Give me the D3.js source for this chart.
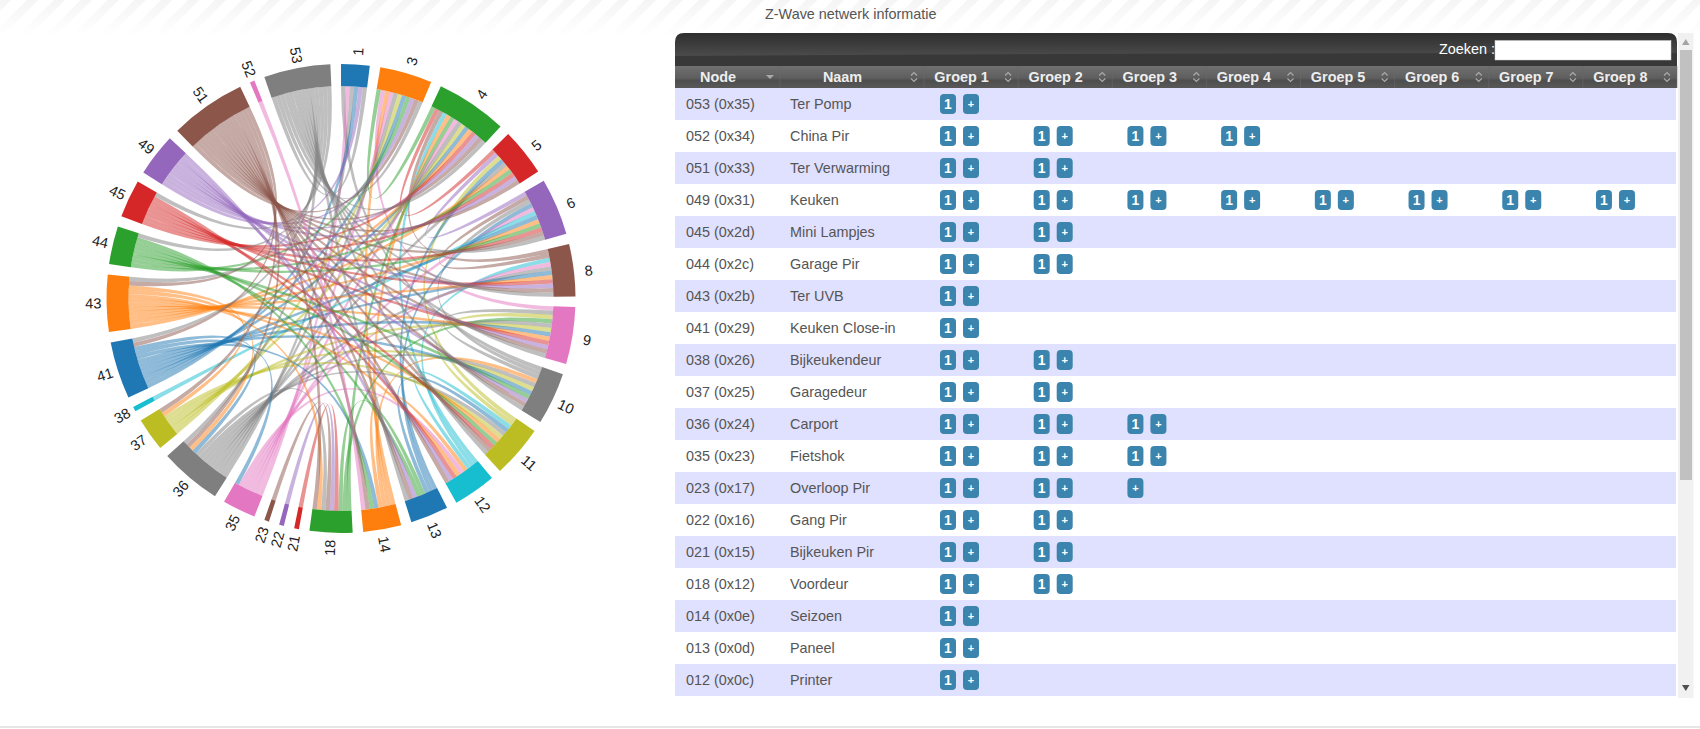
<!DOCTYPE html>
<html>
<head>
<meta charset="utf-8">
<title>Z-Wave netwerk informatie</title>
<script src="https://cdn.jsdelivr.net/npm/d3@7"></script>
<style>
  html, body { margin: 0; padding: 0; background: #fff; overflow: hidden; }
  svg { display: block; font-family: "Liberation Sans", Arial, sans-serif; }
</style>
</head>
<body>
<svg id="page" width="1700" height="729"></svg>
<script>
(function(){

  // chord diagram: the network nodes, clockwise from the top
  var nodes = [1, 3, 4, 5, 6, 8, 9, 10, 11, 12, 13, 14, 18, 21, 22, 23, 35, 36, 37, 38, 41, 43, 44, 45, 49, 51, 52, 53];

  var links53 = [1, 3, 4, 6, 8, 9, 10, 11, 13, 36, 41, 43, 44, 45];
  var links52 = [14];
  var links51 = [3, 4, 5, 6, 8, 9, 10, 11, 12, 13, 14, 18, 36, 37, 41, 43];
  var links49 = [1, 3, 4, 5, 8, 9, 10, 12, 13];
  var links45 = [4, 5, 6, 8, 9, 11, 12];
  var links44 = [3, 5, 6, 10, 11, 13, 14];
  var links43 = [4, 5, 6, 8, 9, 11, 12, 18, 36, 37];
  var links41 = [1, 3, 4, 6, 8, 9, 10, 14, 35, 36];
  var links38 = [6];
  var links37 = [3, 4, 9, 10, 11];
  var links36 = [1, 3, 4, 5, 8, 9, 10, 11, 18];
  var links35 = [1, 3, 4, 6, 8, 12];
  var links23 = [18];
  var links22 = [18];
  var links21 = [18];
  var links18 = [4, 9, 13];
  var links14 = [3, 4, 10, 12];
  var links13 = [5, 6, 11];
  var links12 = [4, 8, 11];
  var links11 = [5, 9];
  var links10 = [1, 6, 9];
  var links9 = [3];
  var links8 = [4, 6];
  var links6 = [5];
  var links5 = [4];
  var links4 = [3];

  var linkRows = [
    [53, links53], [52, links52], [51, links51], [49, links49], [45, links45], [44, links44],
    [43, links43], [41, links41], [38, links38], [37, links37], [36, links36], [35, links35],
    [23, links23], [22, links22], [21, links21], [18, links18], [14, links14], [13, links13],
    [12, links12], [11, links11], [10, links10], [9, links9], [8, links8], [6, links6],
    [5, links5], [4, links4]
  ];

  // table
  var nodeIds = ["053 (0x35)", "052 (0x34)", "051 (0x33)", "049 (0x31)", "045 (0x2d)", "044 (0x2c)", "043 (0x2b)",
    "041 (0x29)", "038 (0x26)", "037 (0x25)", "036 (0x24)", "035 (0x23)", "023 (0x17)", "022 (0x16)", "021 (0x15)",
    "018 (0x12)", "014 (0x0e)", "013 (0x0d)", "012 (0x0c)"];
  var nodeNames = ["Ter Pomp", "China Pir", "Ter Verwarming", "Keuken", "Mini Lampjes", "Garage Pir", "Ter UVB",
    "Keuken Close-in", "Bijkeukendeur", "Garagedeur", "Carport", "Fietshok", "Overloop Pir", "Gang Pir", "Bijkeuken Pir",
    "Voordeur", "Seizoen", "Paneel", "Printer"];
  // per row, the labels of the buttons in Groep 1..8
  var groupButtons = [
    ["1"], ["1", "1", "1", "1"], ["1", "1"], ["1", "1", "1", "1", "1", "1", "1", "1"], ["1", "1"], ["1", "1"], ["1"],
    ["1"], ["1", "1"], ["1", "1"], ["1", "1", "1"], ["1", "1", "1"], ["1", "1", ""], ["1", "1"], ["1", "1"],
    ["1", "1"], ["1"], ["1"], ["1"]
  ];
  var groupNames = ["Groep 1", "Groep 2", "Groep 3", "Groep 4", "Groep 5", "Groep 6", "Groep 7", "Groep 8"];

  var svg = d3.select("#page");
  var defs = svg.append("defs");

  // page background, hatch fading out under the title
  var hatch = defs.append("pattern").attr("id", "hatch").attr("width", 19).attr("height", 19)
    .attr("patternUnits", "userSpaceOnUse").attr("patternTransform", "rotate(45)");
  hatch.append("rect").attr("width", 8).attr("height", 19).attr("fill", "#f5f5f5");
  var fade = defs.append("linearGradient").attr("id", "fade").attr("x1", 0).attr("x2", 0).attr("y1", 0).attr("y2", 1);
  fade.append("stop").attr("offset", 0).attr("stop-color", "#fff");
  fade.append("stop").attr("offset", 1).attr("stop-color", "#000");
  defs.append("mask").attr("id", "hatchFade").attr("maskUnits", "userSpaceOnUse")
    .attr("x", 0).attr("y", 0).attr("width", 1700).attr("height", 36)
    .append("rect").attr("width", 1700).attr("height", 36).attr("fill", "url(#fade)");
  svg.append("rect").attr("width", 1700).attr("height", 36).attr("fill", "url(#hatch)").attr("mask", "url(#hatchFade)");

  drawChord();
  drawTable();

  function drawChord(){
    var index = {};
    nodes.forEach(function(n, i){ index[n] = i; });

    var matrix = nodes.map(function(){ return nodes.map(function(){ return 0; }); });
    linkRows.forEach(function(row){
      row[1].forEach(function(other){
        matrix[index[row[0]]][index[other]] = 1;
        matrix[index[other]][index[row[0]]] = 1;
      });
    });

    var outerRadius = 234.5;
    var innerRadius = 212.5;
    var labelRadius = 248.5;

    var chord = d3.chord().padAngle(0.0454);
    var chords = chord(matrix);
    var color = d3.scaleOrdinal(d3.schemeCategory10).domain(d3.range(nodes.length));
    var arc = d3.arc().innerRadius(innerRadius).outerRadius(outerRadius);
    var ribbon = d3.ribbon().radius(innerRadius);

    var g = svg.append("g").attr("transform", "translate(341,298.5)");

    // ribbons take the colour of the higher numbered node
    g.append("g").selectAll("path")
      .data(chords)
      .enter()
      .append("path")
      .attr("d", ribbon)
      .attr("fill", function(d){ return color(Math.max(d.source.index, d.target.index)); })
      .attr("fill-opacity", 0.5);

    var group = g.append("g").selectAll("g")
      .data(chords.groups)
      .enter()
      .append("g");

    group.append("path")
      .attr("d", arc)
      .attr("fill", function(d){ return color(d.index); });

    group.append("text")
      .attr("transform", function(d){
        var a = (d.startAngle + d.endAngle) / 2;
        var deg = a * 180 / Math.PI - 90;
        if (a > Math.PI) deg += 180;
        return "translate(" + (Math.sin(a) * labelRadius + 0.8) + "," + (-Math.cos(a) * labelRadius + 1) + ") rotate(" + deg + ")";
      })
      .attr("text-anchor", "middle")
      .attr("dominant-baseline", "central")
      .attr("dy", function(d){ return (d.startAngle + d.endAngle) / 2 > Math.PI ? -1.2 : 1.2; })
      .attr("font-size", 14.5)
      .attr("fill", "#222")
      .text(function(d){ return nodes[d.index]; });
  }

  function drawTable(){
    var left = 675, right = 1677, top = 33, toolbarBottom = 66, headBottom = 88;

    var rowY = d3.scaleBand().domain(d3.range(nodeIds.length)).range([headBottom, 696]);
    var headX = d3.scaleBand().domain(d3.range(groupNames.length)).range([924, right]);
    var cellX = d3.scaleLinear().domain([0, 1]).range([940, 940 + 93.71]);

    var dark = defs.append("linearGradient").attr("id", "toolbarTop").attr("x1", 0).attr("x2", 0).attr("y1", 0).attr("y2", 1);
    dark.append("stop").attr("offset", 0).attr("stop-color", "#2e2e2e");
    dark.append("stop").attr("offset", 1).attr("stop-color", "#585858");
    var headGrad = defs.append("linearGradient").attr("id", "headTop").attr("x1", 0).attr("x2", 0).attr("y1", 0).attr("y2", 1);
    headGrad.append("stop").attr("offset", 0).attr("stop-color", "#707070");
    headGrad.append("stop").attr("offset", 0.55).attr("stop-color", "#5e5e5e");
    headGrad.append("stop").attr("offset", 0.65).attr("stop-color", "#4e4e4e");
    headGrad.append("stop").attr("offset", 1).attr("stop-color", "#585858");

    // toolbar
    svg.append("path")
      .attr("d", "M" + left + "," + toolbarBottom + "V" + (top + 9) + "Q" + left + "," + top + " " + (left + 9) + "," + top +
        "H" + (right - 9) + "Q" + right + "," + top + " " + right + "," + (top + 9) + "V" + toolbarBottom + "Z")
      .attr("fill", "url(#toolbarTop)");
    svg.append("path")
      .attr("d", "M" + left + ",56Q1180,53 " + right + ",53V66H" + left + "Z")
      .attr("fill", "#383838");

    svg.append("text").attr("x", 1495).attr("y", 49).attr("text-anchor", "end")
      .attr("dominant-baseline", "central").attr("font-size", 14.4).attr("fill", "#fff").text("Zoeken :");
    svg.append("rect").attr("x", 1495).attr("y", 40.5).attr("width", 176).attr("height", 19.5)
      .attr("fill", "#fff").attr("stroke", "#ccc").attr("stroke-width", 0.5);

    // header row
    svg.append("rect").attr("x", left).attr("y", toolbarBottom).attr("width", right - left).attr("height", headBottom - toolbarBottom)
      .attr("fill", "url(#headTop)");

    var heads = [{name: "Node", x0: left, x1: 780}, {name: "Naam", x0: 780, x1: 924}];
    groupNames.forEach(function(name, i){
      heads.push({name: name, x0: headX(i), x1: headX(i) + headX.bandwidth()});
    });

    var head = svg.append("g").selectAll("g").data(heads).enter().append("g");
    head.append("line")
      .attr("x1", function(d){ return d.x1; }).attr("x2", function(d){ return d.x1; })
      .attr("y1", toolbarBottom).attr("y2", headBottom)
      .attr("stroke", "#6a6a6a").attr("stroke-width", 0.6);
    head.append("text")
      .attr("x", function(d){ return (d.x0 + d.x1) / 2 - 9.5; })
      .attr("y", 77)
      .attr("text-anchor", "middle").attr("dominant-baseline", "central")
      .attr("font-size", 14.4).attr("font-weight", "bold").attr("fill", "#eee")
      .text(function(d){ return d.name; });
    head.append("path")
      .attr("transform", function(d){ return "translate(" + (d.x1 - 10) + ",77)"; })
      .attr("d", function(d, i){
        return i === 0 ? "M-4,-2H4L0,2Z" : "M-3,-1.5L0,-4.5L3,-1.5M-3,1.5L0,4.5L3,1.5";
      })
      .attr("fill", function(d, i){ return i === 0 ? "#aaa" : "none"; })
      .attr("stroke", function(d, i){ return i === 0 ? "none" : "#aaa"; })
      .attr("stroke-width", 1.2);

    // rows
    var row = svg.append("g").selectAll("g")
      .data(nodeIds)
      .enter()
      .append("g")
      .attr("transform", function(d, i){ return "translate(0," + rowY(i) + ")"; });

    row.append("rect")
      .attr("x", left).attr("width", 1676 - left).attr("height", rowY.bandwidth())
      .attr("fill", function(d, i){ return i % 2 === 0 ? "#e0e0ff" : "#fff"; });

    row.append("text").attr("x", 686).attr("y", 16).attr("dominant-baseline", "central")
      .attr("font-size", 14.4).attr("fill", "#555").text(function(d){ return d; });
    row.append("text").attr("x", 790).attr("y", 16).attr("dominant-baseline", "central")
      .attr("font-size", 14.4).attr("fill", "#555").text(function(d, i){ return nodeNames[i]; });

    row.each(function(d, i){
      var buttons = [];
      groupButtons[i].forEach(function(label, col){
        if (label) {
          buttons.push({text: label, x: cellX(col), w: 16});
          buttons.push({text: "+", x: cellX(col) + 23, w: 16});
        } else {
          buttons.push({text: "+", x: cellX(col), w: 16});
        }
      });
      var b = d3.select(this).selectAll("g.btn").data(buttons).enter().append("g").attr("class", "btn");
      b.append("rect")
        .attr("x", function(c){ return c.x; }).attr("y", 6).attr("width", function(c){ return c.w; }).attr("height", 20)
        .attr("rx", 4).attr("fill", "#3a84ad");
      b.append("text")
        .attr("x", function(c){ return c.x + c.w / 2; }).attr("y", 16)
        .attr("text-anchor", "middle").attr("dominant-baseline", "central")
        .attr("font-weight", "bold").attr("fill", "#fff")
        .attr("font-size", function(c){ return c.text === "+" ? 11 : 14; })
        .text(function(c){ return c.text; });
    });

    // scrollbar
    svg.append("rect").attr("x", 1678).attr("y", 33).attr("width", 15.5).attr("height", 665).attr("fill", "#f1f1f1");
    svg.append("rect").attr("x", 1680).attr("y", 50).attr("width", 12).attr("height", 430).attr("fill", "#c1c1c1");
    svg.append("path").attr("d", "M1682,45L1685.8,39L1689.5,45Z").attr("fill", "#a3a3a3");
    svg.append("path").attr("d", "M1682,685L1685.8,691L1689.5,685Z").attr("fill", "#505050");

    // title and footer rule
    svg.append("text").attr("x", 765).attr("y", 13.5).attr("dominant-baseline", "central")
      .attr("font-size", 14.4).attr("fill", "#555").text("Z-Wave netwerk informatie");
    svg.append("line").attr("x1", 0).attr("x2", 1700).attr("y1", 727).attr("y2", 727).attr("stroke", "#ccc").attr("stroke-width", 1);
  }

})();
</script>
</body>
</html>
